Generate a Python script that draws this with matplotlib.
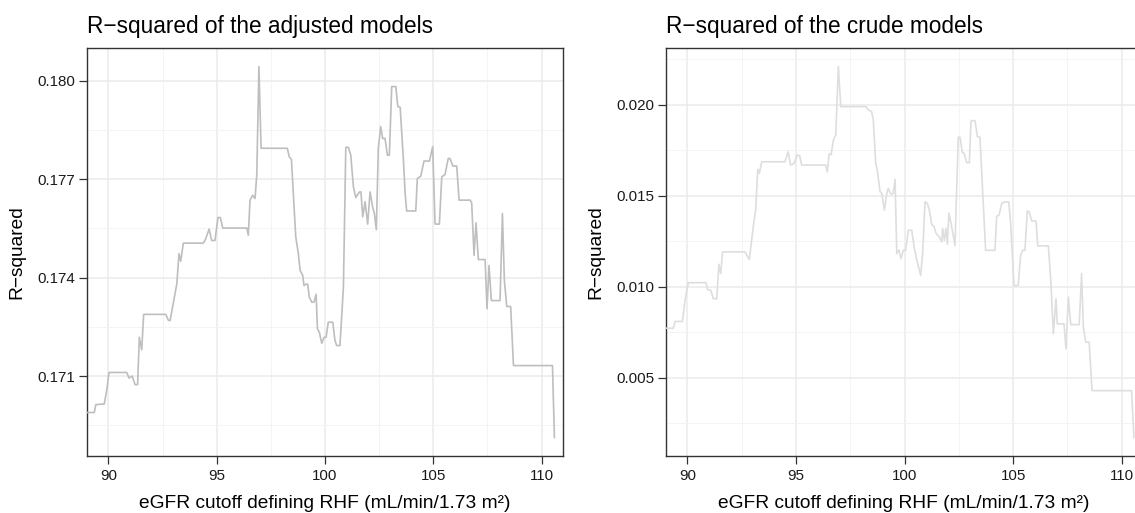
import numpy as np
import matplotlib
matplotlib.use("Agg")
import matplotlib.pyplot as plt
from matplotlib.ticker import FixedLocator, FormatStrFormatter

plt.rcParams['font.family'] = ['Liberation Sans', 'DejaVu Sans']

# eGFR cutoff vs R-squared, adjusted models
adj_cutoff = [89.0, 89.35, 89.42, 89.81, 89.92, 90.03, 90.85, 90.95, 91.1, 91.23,
              91.35, 91.43, 91.54, 91.63, 92.65, 92.77, 92.85, 93.16, 93.26, 93.34,
              93.46, 94.38, 94.48, 94.65, 94.77, 94.92, 95.06, 95.17, 95.28, 96.39,
              96.46, 96.54, 96.66, 96.77, 96.85, 96.95, 97.05, 98.26, 98.35, 98.45,
              98.65, 98.77, 98.85, 98.97, 99.03, 99.12, 99.20, 99.28, 99.39, 99.49,
              99.59, 99.65, 99.74, 99.85, 99.96, 100.05, 100.15, 100.36, 100.46, 100.54,
              100.69, 100.85, 100.96, 101.08, 101.19, 101.31, 101.42, 101.59, 101.66, 101.74,
              101.85, 101.97, 102.08, 102.20, 102.28, 102.37, 102.46, 102.57, 102.66, 102.77,
              102.88, 102.97, 103.08, 103.27, 103.36, 103.47, 103.62, 103.70, 103.77, 104.19,
              104.26, 104.42, 104.57, 104.82, 104.97, 105.08, 105.28, 105.39, 105.54, 105.69,
              105.77, 105.90, 106.08, 106.19, 106.70, 106.77, 106.88, 106.97, 107.08, 107.39,
              107.48, 107.57, 107.68, 108.08, 108.19, 108.28, 108.39, 108.57, 108.70, 110.50,
              110.59]
adj_r2 = [0.16989, 0.16989, 0.17013, 0.17015, 0.17055, 0.17111, 0.17111, 0.17094, 0.17100, 0.17074,
          0.17074, 0.17218, 0.17180, 0.17288, 0.17288, 0.17270, 0.17269, 0.17381, 0.17473, 0.17450,
          0.17505, 0.17505, 0.17516, 0.17548, 0.17513, 0.17513, 0.17583, 0.17583, 0.17551, 0.17551,
          0.17529, 0.17636, 0.17651, 0.17641, 0.17712, 0.18043, 0.17794, 0.17794, 0.17768, 0.17760,
          0.17524, 0.17473, 0.17422, 0.17407, 0.17376, 0.17380, 0.17380, 0.17340, 0.17325, 0.17325,
          0.17349, 0.17244, 0.17233, 0.17200, 0.17218, 0.17218, 0.17264, 0.17264, 0.17208, 0.17193,
          0.17193, 0.17371, 0.17797, 0.17797, 0.17773, 0.17677, 0.17644, 0.17661, 0.17661, 0.17585,
          0.17631, 0.17563, 0.17661, 0.17615, 0.17595, 0.17546, 0.17794, 0.17860, 0.17824, 0.17824,
          0.17773, 0.17773, 0.17982, 0.17982, 0.17921, 0.17919, 0.17758, 0.17656, 0.17603, 0.17603,
          0.17702, 0.17709, 0.17755, 0.17755, 0.17799, 0.17563, 0.17563, 0.17707, 0.17714, 0.17763,
          0.17763, 0.17740, 0.17740, 0.17636, 0.17636, 0.17628, 0.17468, 0.17567, 0.17455, 0.17455,
          0.17305, 0.17437, 0.17330, 0.17330, 0.17595, 0.17391, 0.17312, 0.17312, 0.17132, 0.17132,
          0.16913]

# same for the crude models
crude_cutoff = [89.0, 89.35, 89.43, 89.77, 89.89, 90.04, 90.86, 90.93, 91.07, 91.19,
                91.35, 91.45, 91.53, 91.62, 92.65, 92.85, 93.03, 93.14, 93.24, 93.31,
                93.42, 94.49, 94.64, 94.75, 94.91, 95.06, 95.17, 95.26, 96.37, 96.44,
                96.53, 96.62, 96.72, 96.83, 96.95, 97.06, 98.22, 98.33, 98.48, 98.56,
                98.67, 98.74, 98.87, 98.95, 99.07, 99.18, 99.25, 99.37, 99.47, 99.56,
                99.64, 99.74, 99.83, 99.94, 100.05, 100.17, 100.33, 100.45, 100.58, 100.74,
                100.83, 100.94, 101.05, 101.14, 101.25, 101.36, 101.45, 101.60, 101.71, 101.75,
                101.83, 101.90, 101.97, 102.04, 102.17, 102.32, 102.47, 102.55, 102.66, 102.74,
                102.86, 102.98, 103.06, 103.24, 103.35, 103.47, 103.73, 104.16, 104.24, 104.35,
                104.47, 104.62, 104.80, 104.88, 105.04, 105.23, 105.34, 105.44, 105.54, 105.65,
                105.74, 105.85, 106.05, 106.13, 106.62, 106.73, 106.85, 106.97, 107.03, 107.34,
                107.43, 107.54, 107.65, 108.04, 108.15, 108.23, 108.34, 108.50, 108.63, 110.45,
                110.56]
crude_r2 = [0.00773, 0.00773, 0.00810, 0.00810, 0.00926, 0.01023, 0.01023, 0.00985, 0.00982, 0.00935,
            0.00935, 0.01124, 0.01073, 0.01192, 0.01192, 0.01150, 0.01329, 0.01421, 0.01645, 0.01623,
            0.01687, 0.01687, 0.01742, 0.01669, 0.01678, 0.01724, 0.01720, 0.01669, 0.01669, 0.01632,
            0.01730, 0.01727, 0.01807, 0.01834, 0.02210, 0.01990, 0.01990, 0.01972, 0.01963, 0.01917,
            0.01678, 0.01642, 0.01522, 0.01514, 0.01421, 0.01513, 0.01541, 0.01509, 0.01513, 0.01590,
            0.01183, 0.01202, 0.01155, 0.01201, 0.01201, 0.01311, 0.01311, 0.01210, 0.01137, 0.01063,
            0.01183, 0.01467, 0.01458, 0.01421, 0.01342, 0.01330, 0.01293, 0.01274, 0.01247, 0.01321,
            0.01256, 0.01321, 0.01234, 0.01406, 0.01329, 0.01228, 0.01822, 0.01822, 0.01737, 0.01734,
            0.01682, 0.01682, 0.01913, 0.01913, 0.01825, 0.01822, 0.01201, 0.01201, 0.01388, 0.01394,
            0.01458, 0.01467, 0.01467, 0.01348, 0.01008, 0.01008, 0.01173, 0.01201, 0.01201, 0.01417,
            0.01412, 0.01362, 0.01362, 0.01225, 0.01225, 0.01036, 0.00742, 0.00935, 0.00797, 0.00797,
            0.00660, 0.00944, 0.00793, 0.00793, 0.01073, 0.00779, 0.00696, 0.00696, 0.00430, 0.00430,
            0.00173]

titles = ["R\u2212squared of the adjusted models", "R\u2212squared of the crude models"]
x_ticks = [90, 95, 100, 105, 110]
adj_ticks = [0.171, 0.174, 0.177, 0.180]
crude_ticks = [0.005, 0.010, 0.015, 0.020]

W, H = 1135, 513
fig = plt.figure(figsize=(W / 100, H / 100), dpi=100)

# axes boxes in pixels: left, top, width, height (right panel runs off the edge)
boxes = [(86.7, 48, 476.6, 408), (665.7, 48, 477.8, 408)]
panels = [(adj_cutoff, adj_r2, adj_ticks, "#BEBEBE"),
          (crude_cutoff, crude_r2, crude_ticks, "#DEDEDE")]

for i in range(2):
    left, top, w, h = boxes[i]
    ax = fig.add_axes([left / W, (H - top - h) / H, w / W, h / H])
    xs, ys, yt, col = panels[i]

    ax.plot(xs, ys, color=col, lw=1.2, zorder=3)

    # ggplot-like expansion on y, fixed window on x
    lo, hi = min(ys), max(ys)
    pad = (hi - lo) * 0.05
    ax.set_ylim(lo - pad, hi + pad)
    ax.set_xlim(89, 111)

    ax.xaxis.set_major_locator(FixedLocator(x_ticks))
    ax.xaxis.set_minor_locator(FixedLocator([92.5, 97.5, 102.5, 107.5]))
    ax.yaxis.set_major_locator(FixedLocator(yt))
    step = yt[1] - yt[0]
    minors = [yt[0] - step / 2] + [t + step / 2 for t in yt]
    ax.yaxis.set_minor_locator(FixedLocator(minors))
    ax.yaxis.set_major_formatter(FormatStrFormatter('%.3f'))

    ax.grid(which='major', color='#EBEBEB', lw=1.1, zorder=0)
    ax.grid(which='minor', color='#F3F3F3', lw=0.6, zorder=0)
    ax.set_axisbelow(True)

    for s in ax.spines.values():
        s.set_color('#333333')
        s.set_linewidth(1.0)

    ax.tick_params(which='major', length=5.5, width=0.9, color='#333333',
                   labelsize=10.9, labelcolor='#1A1A1A')
    ax.tick_params(axis='x', pad=4)
    ax.tick_params(axis='y', pad=2.5)
    ax.tick_params(which='minor', length=0)

    ax.set_title(titles[i], loc='left', fontsize=16.3, pad=11, color='black')
    ax.set_xlabel("eGFR cutoff defining RHF (mL/min/1.73 m\u00b2)", fontsize=13.8)
    ax.xaxis.set_label_coords(476.6 / 2 / w, -39 / h)
    ax.xaxis.label.set_va('top')
    ax.set_ylabel("R\u2212squared", fontsize=13.8)
    ax.yaxis.set_label_coords(-61.7 / w, 0.5)

fig.savefig("out.png", dpi=100)
